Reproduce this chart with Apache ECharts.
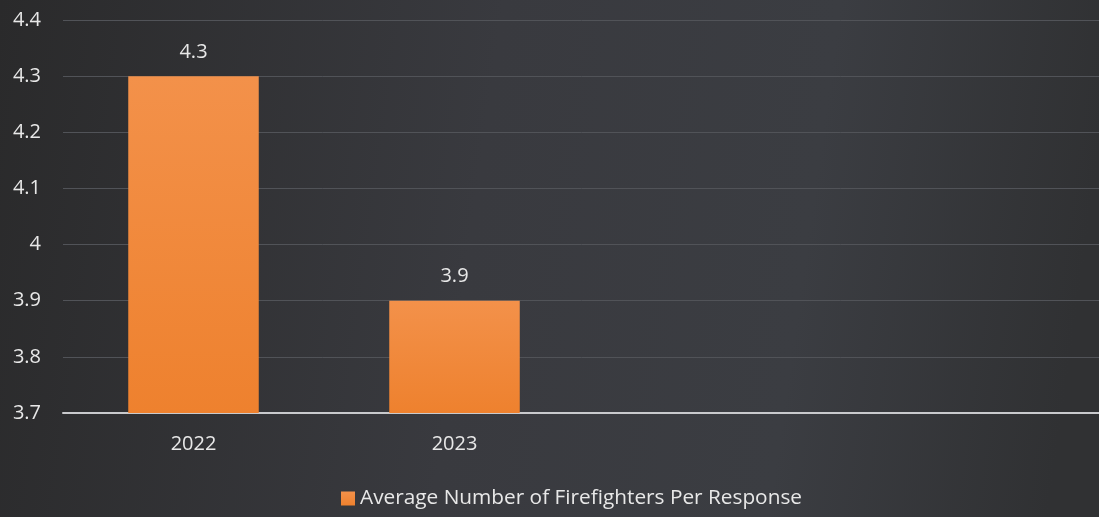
<!DOCTYPE html>
<html>
<head>
<meta charset="utf-8">
<script src="https://cdn.jsdelivr.net/npm/echarts@6/dist/echarts.min.js"></script>
<style>
html,body{margin:0;padding:0;width:1099px;height:517px;overflow:hidden;}
#c{width:1099px;height:517px;}
</style>
</head>
<body>
<div id="c"></div>
<script>
const categories = ["2022", "2023", "", ""];
const values = [4.3, 3.9, null, null];
const seriesName = "Average Number of Firefighters Per Response";
const yMin = 3.7, yMax = 4.4, yStep = 0.1;

const chart = echarts.init(document.getElementById('c'));
const font = "'Open Sans', sans-serif";
chart.setOption({
  backgroundColor: {
    type: 'linear', x: 0, y: 0, x2: 1, y2: 0.3,
    colorStops: [
      {offset: 0, color: '#2a2a2b'},
      {offset: 0.45, color: '#393a3f'},
      {offset: 0.75, color: '#3b3d42'},
      {offset: 1, color: '#303133'}
    ]
  },
  animation: false,
  grid: {left: 63, width: 1044, top: 20, bottom: 104, containLabel: false, outerBoundsMode: 'none'},
  legend: {
    bottom: 3, left: 336,
    itemWidth: 14, itemHeight: 14, itemGap: 4,
    icon: 'rect',
    textStyle: {color: '#e8e8e8', fontSize: 20.8, fontFamily: font},
    data: [seriesName]
  },
  xAxis: {
    type: 'category', data: categories,
    axisLine: {lineStyle: {color: '#c9cacd', width: 2}},
    axisTick: {show: false},
    axisLabel: {color: '#e8e8e8', fontSize: 20, fontFamily: font, margin: 21}
  },
  yAxis: {
    type: 'value', min: yMin, max: yMax, interval: yStep,
    axisLine: {show: false}, axisTick: {show: false},
    axisLabel: {
      color: '#e8e8e8', fontSize: 20, fontFamily: font, margin: 22,
      formatter: v => String(Math.round(v * 10) / 10)
    },
    splitLine: {lineStyle: {color: '#515358', width: 1}}
  },
  series: [{
    name: seriesName, type: 'bar', data: values, barWidth: '50%',
    itemStyle: {
      color: {
        type: 'linear', x: 0, y: 0, x2: 0, y2: 1,
        colorStops: [{offset: 0, color: '#f3914a'}, {offset: 1, color: '#ee812e'}]
      }
    },
    label: {
      show: true, position: 'top', distance: 14,
      color: '#e8e8e8', fontSize: 20, fontFamily: font,
      formatter: p => p.value.toFixed(1)
    }
  }],
  color: ['#f08a3c']
});
</script>
</body>
</html>
